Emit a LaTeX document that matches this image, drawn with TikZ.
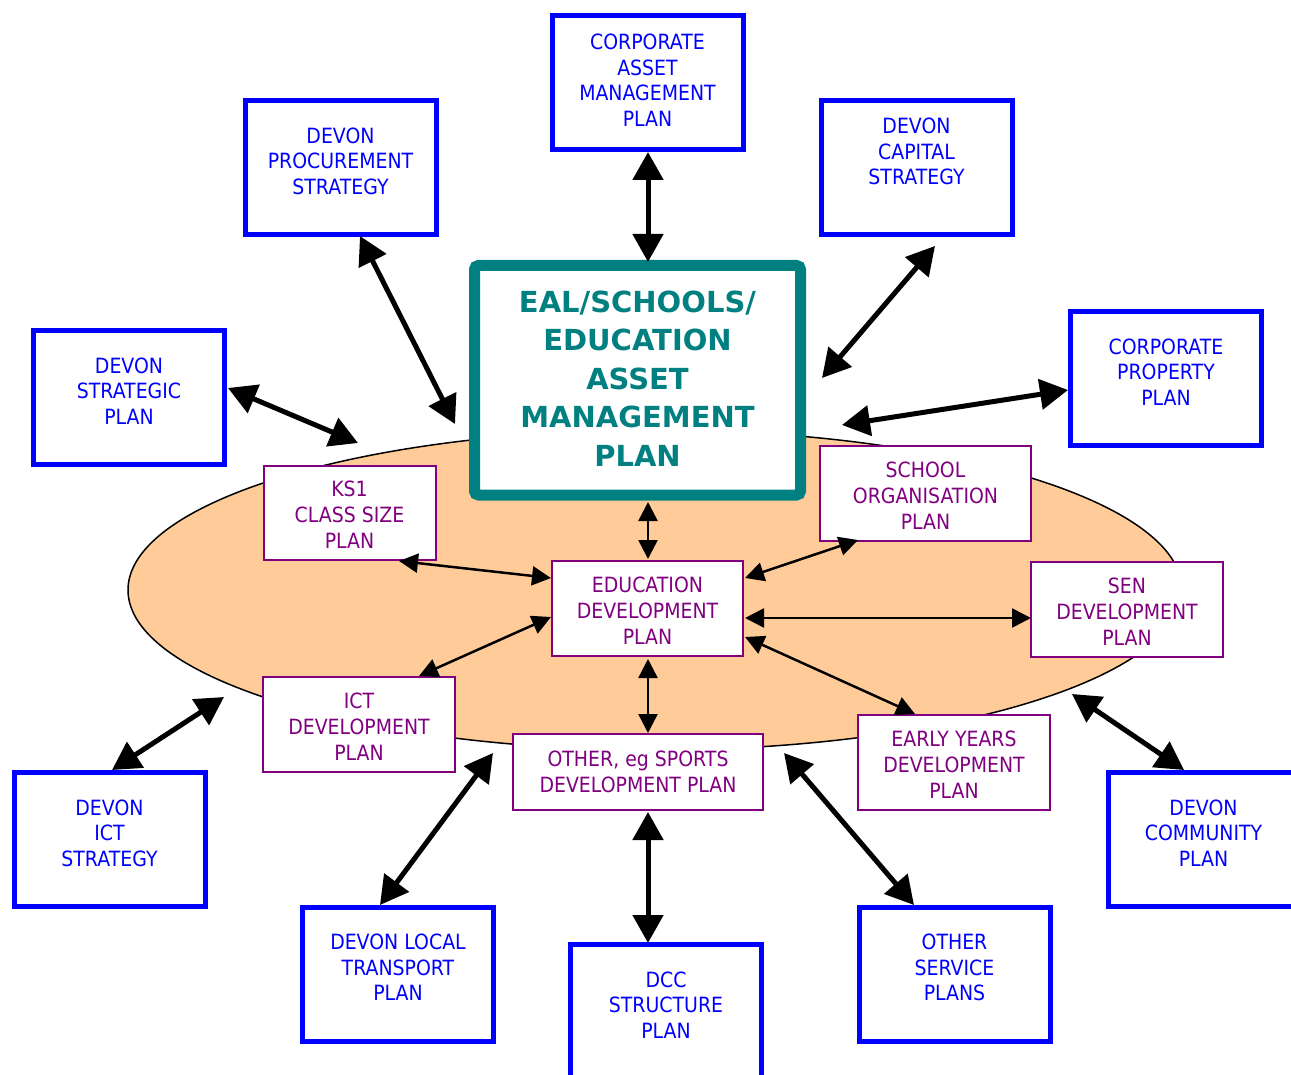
\documentclass[tikz,border=0pt]{standalone}
\usepackage{fontspec}
\setmainfont{DejaVu Sans}[FakeStretch=0.9]
\newfontfamily\titlefont{DejaVu Sans}
\usetikzlibrary{arrows.meta}
\definecolor{boxblue}{RGB}{0,0,255}
\definecolor{tealc}{RGB}{0,128,128}
\definecolor{purp}{RGB}{128,0,128}
\definecolor{peach}{RGB}{255,204,153}
\begin{document}
\begin{tikzpicture}[x=1pt,y=-1pt,
  bluebox/.style={draw=boxblue, line width=5pt, fill=white, minimum width=191pt, minimum height=134pt, inner sep=0pt},
  bluetext/.style={text=boxblue, align=center, inner sep=0pt, font=\fontsize{21}{25.5}\selectfont},
  purpbox/.style={draw=purp, line width=2pt, fill=white, inner sep=0pt},
  purptext/.style={text=purp, align=center, inner sep=0pt, font=\fontsize{21}{25.8}\selectfont},
  bigarrow/.style={line width=5pt, {Triangle[length=28pt,width=30pt]}-{Triangle[length=28pt,width=30pt]}},
  smallarrow/.style={line width=2.5pt, {Triangle[length=19pt,width=19pt]}-{Triangle[length=19pt,width=19pt]}},
]
\clip (0,0) rectangle (1291,1075);
\fill[white] (0,0) rectangle (1291,1075);

% ellipse
\draw[fill=peach, line width=1.5pt] (655,590) ellipse [x radius=527pt, y radius=160pt];

% central box
\node[draw=tealc, line width=11pt, rounded corners=4pt, fill=white, minimum width=326pt, minimum height=229.5pt, inner sep=0pt] (central) at (637.5,380.25) {};
\node[text=tealc, align=center, inner sep=0pt, font=\titlefont\bfseries\fontsize{29}{38.5}\selectfont] (tcentral) at ([yshift=2pt]central.center) {EAL/SCHOOLS/\\EDUCATION\\ASSET\\MANAGEMENT\\PLAN};

% blue boxes
\node[bluebox] (camp) at (647.5,83) {};
\node[bluetext] (tcamp) at ([yshift=3pt]camp.center) {CORPORATE\\ASSET\\MANAGEMENT\\PLAN};
\node[bluebox] (proc) at (340.5,167.5) {};
\node[bluetext] (tproc) at ([yshift=6.5pt]proc.center) {DEVON\\PROCUREMENT\\STRATEGY};
\node[bluebox] (capital) at (916.5,167.5) {};
\node[bluetext] (tcapital) at ([yshift=16pt]capital.center) {DEVON\\CAPITAL\\STRATEGY};
\node[bluebox] (strat) at (129,397.5) {};
\node[bluetext] (tstrat) at ([yshift=6.5pt]strat.center) {DEVON\\STRATEGIC\\PLAN};
\node[bluebox] (prop) at (1166,378.5) {};
\node[bluetext] (tprop) at ([yshift=6.5pt]prop.center) {CORPORATE\\PROPERTY\\PLAN};
\node[bluebox] (ictstrat) at (109.5,839.5) {};
\node[bluetext] (tictstrat) at ([yshift=6.5pt]ictstrat.center) {DEVON\\ICT\\STRATEGY};
\node[bluebox] (transport) at (398,974) {};
\node[bluetext] (ttransport) at ([yshift=6.5pt]transport.center) {DEVON LOCAL\\TRANSPORT\\PLAN};
\node[bluebox] (dcc) at (666,1011.5) {};
\node[bluetext] (tdcc) at ([yshift=6.5pt]dcc.center) {DCC\\STRUCTURE\\PLAN};
\node[bluebox] (otherserv) at (954.5,974) {};
\node[bluetext] (totherserv) at ([yshift=6.5pt]otherserv.center) {OTHER\\SERVICE\\PLANS};
\node[bluebox] (community) at (1203.5,839.5) {};
\node[bluetext] (tcommunity) at ([yshift=6.5pt]community.center) {DEVON\\COMMUNITY\\PLAN};

% purple boxes
\node[purpbox, minimum width=172pt, minimum height=94pt] (ks1) at (349.5,512.5) {};
\node[purptext] (tks1) at ([yshift=-2.5pt]ks1.center) {KS1\\CLASS SIZE\\PLAN};
\node[purpbox, minimum width=191pt, minimum height=95pt] (edp) at (647.5,608.5) {};
\node[purptext] (tedp) at ([yshift=-2pt]edp.center) {EDUCATION\\DEVELOPMENT\\PLAN};
\node[purpbox, minimum width=211pt, minimum height=95pt] (school) at (925.5,493.5) {};
\node[purptext] (tschool) at ([yshift=-2.5pt]school.center) {SCHOOL\\ORGANISATION\\PLAN};
\node[purpbox, minimum width=192pt, minimum height=95pt] (sen) at (1127,609) {};
\node[purptext] (tsen) at ([yshift=-2.5pt]sen.center) {SEN\\DEVELOPMENT\\PLAN};
\node[purpbox, minimum width=192pt, minimum height=95pt] (ictdev) at (359,724) {};
\node[purptext] (tictdev) at ([yshift=-2.5pt]ictdev.center) {ICT\\DEVELOPMENT\\PLAN};
\node[purpbox, minimum width=250pt, minimum height=76pt] (sports) at (638,772) {};
\node[purptext] (tsports) at ([yshift=0.5pt]sports.center) {OTHER, eg SPORTS\\DEVELOPMENT PLAN};
\node[purpbox, minimum width=192pt, minimum height=95pt] (early) at (954,762) {};
\node[purptext] (tearly) at ([yshift=-3pt]early.center) {EARLY YEARS\\DEVELOPMENT\\PLAN};

% arrow end points
\coordinate (a1s) at (648,152);  \coordinate (a1e) at (648,262);
\coordinate (a2s) at (360,236);  \coordinate (a2e) at (455,424);
\coordinate (a3s) at (935,246);  \coordinate (a3e) at (822,378);
\coordinate (a4s) at (228,388);  \coordinate (a4e) at (358,443);
\coordinate (a5s) at (1068,390); \coordinate (a5e) at (842,425);
\coordinate (a6s) at (112,770);  \coordinate (a6e) at (224,697);
\coordinate (a7s) at (380,905);  \coordinate (a7e) at (493,753);
\coordinate (a8s) at (648,943);  \coordinate (a8e) at (648,812);
\coordinate (a9s) at (914,905);  \coordinate (a9e) at (784,753);
\coordinate (a10s) at (1184,770); \coordinate (a10e) at (1072,694);

\coordinate (b1s) at (648,502);  \coordinate (b1e) at (648,559);
\coordinate (b2s) at (399,561);  \coordinate (b2e) at (551,578);
\coordinate (b3s) at (419,676);  \coordinate (b3e) at (551,617);
\coordinate (b4s) at (858,540);  \coordinate (b4e) at (745,578);
\coordinate (b5s) at (1031,618); \coordinate (b5e) at (745,618);
\coordinate (b6s) at (915,714);  \coordinate (b6e) at (745,637);
\coordinate (b7s) at (648,733);  \coordinate (b7e) at (648,659);

% outer arrows
\foreach \i in {1,...,10} {\draw[bigarrow] (a\i s) -- (a\i e);}
% inner arrows
\foreach \i in {1,...,7} {\draw[smallarrow] (b\i s) -- (b\i e);}
\end{tikzpicture}
\end{document}
